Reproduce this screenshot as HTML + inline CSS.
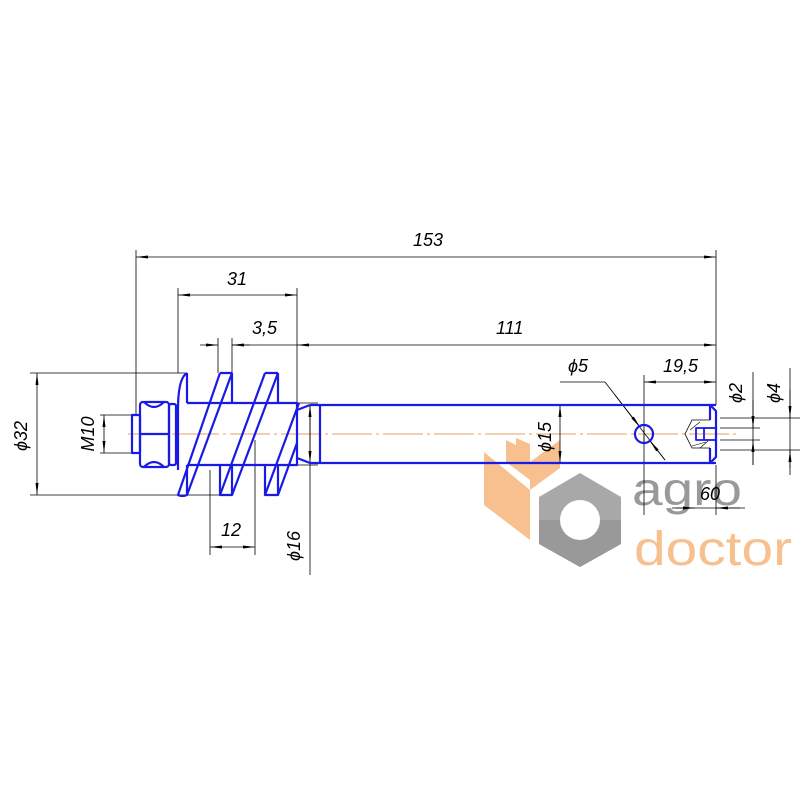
<!DOCTYPE html>
<html><head><style>html,body{margin:0;padding:0;background:#fff}svg{display:block}</style></head>
<body>
<svg width="800" height="800" viewBox="0 0 800 800" xmlns="http://www.w3.org/2000/svg" font-family="Liberation Sans, sans-serif">
<defs>
<marker id="a" viewBox="0 0 12 6" refX="12" refY="3" markerWidth="12" markerHeight="6" orient="auto-start-reverse" markerUnits="userSpaceOnUse"><path d="M0,1.5 L12,3 L0,4.5 Z" fill="#000"/></marker>
</defs>
<!-- logo -->
<g fill="#f7c08e">
<polygon points="484,452 530,490 530,540 484,505"/>
<polygon points="506,462 530,480 530,452 506,440"/>
<polygon points="530,490 560,468 560,440 530,462"/>
<polygon points="516,448 530,456 530,444 516,438"/>
</g>
<polygon points="580,473 621,497 621,544 580,567 539,544 539,497" fill="#a8a8a8"/>
<polygon points="539,520 621,520 621,544 580,567 539,544" fill="#999"/>
<circle cx="580" cy="520" r="20" fill="#fff"/>
<text x="632" y="505" font-size="46" fill="#999" textLength="110" lengthAdjust="spacingAndGlyphs">agro</text>
<text x="634" y="565" font-size="48" fill="#f7c08e" textLength="158" lengthAdjust="spacingAndGlyphs">doctor</text>

<line x1="128" y1="434" x2="740" y2="434" stroke="#e0a060" stroke-width="1" stroke-dasharray="40,4,3,4"/>

<g stroke="#000" stroke-width="0.8" fill="none">
<line x1="136" y1="250" x2="136" y2="415"/>
<line x1="178" y1="288" x2="178" y2="373"/>
<line x1="297" y1="288" x2="297" y2="403"/>
<line x1="716" y1="250" x2="716" y2="405"/>
<line x1="218" y1="338" x2="218" y2="373"/>
<line x1="232" y1="338" x2="232" y2="373"/>
<line x1="30" y1="373" x2="185" y2="373"/>
<line x1="30" y1="495" x2="220" y2="495"/>
<line x1="100" y1="415" x2="140" y2="415"/>
<line x1="100" y1="453" x2="140" y2="453"/>
<line x1="210" y1="470" x2="210" y2="555"/>
<line x1="255" y1="440" x2="255" y2="555"/>
<line x1="310" y1="405" x2="310" y2="575"/>
<line x1="296" y1="403" x2="318" y2="403"/>
<line x1="296" y1="465" x2="318" y2="465"/>
<line x1="644" y1="375" x2="644" y2="445"/>
<line x1="644" y1="430" x2="644" y2="515"/>
<line x1="716" y1="465" x2="716" y2="515"/>
<line x1="720" y1="428" x2="760" y2="428"/>
<line x1="720" y1="440" x2="760" y2="440"/>
<line x1="720" y1="418" x2="800" y2="418"/>
<line x1="720" y1="450" x2="800" y2="450"/>
<line x1="753" y1="372" x2="753" y2="465"/>
<line x1="790" y1="368" x2="790" y2="468"/>
<line x1="560" y1="382" x2="605" y2="382"/>
<line x1="605" y1="382" x2="665" y2="460"/>
<line x1="672" y1="508" x2="745" y2="508"/>
</g>
<g stroke="#000" stroke-width="0.8" marker-start="url(#a)" marker-end="url(#a)">
<line x1="136" y1="257" x2="716" y2="257"/>
<line x1="178" y1="295" x2="297" y2="295"/>
<line x1="297" y1="345" x2="716" y2="345"/>
<line x1="37" y1="373" x2="37" y2="495"/>
<line x1="104" y1="415" x2="104" y2="453"/>
<line x1="210" y1="547" x2="255" y2="547"/>
<line x1="310" y1="405" x2="310" y2="463"/>
<line x1="560" y1="405" x2="560" y2="463"/>
<line x1="644" y1="382" x2="716" y2="382"/>
</g>
<g stroke="#000" stroke-width="0.8" marker-end="url(#a)">
<line x1="200" y1="345" x2="218" y2="345"/>
<line x1="250" y1="345" x2="232" y2="345"/>
<line x1="753" y1="400" x2="753" y2="428"/>
<line x1="753" y1="465" x2="753" y2="440"/>
<line x1="790" y1="390" x2="790" y2="418"/>
<line x1="790" y1="475" x2="790" y2="450"/>
<line x1="615" y1="395" x2="640" y2="427"/>
<line x1="665" y1="460" x2="650" y2="441"/>
<line x1="676" y1="508" x2="695" y2="508"/>
<line x1="740" y1="508" x2="716" y2="508"/>
</g>
<line x1="232" y1="345" x2="297" y2="345" stroke="#000" stroke-width="0.8"/>

<g stroke="#1a1ae6" stroke-width="2.2" fill="none" stroke-linejoin="round">
<rect x="132" y="415" width="8" height="38"/>
<rect x="140" y="402" width="29" height="65" rx="3"/>
<line x1="140" y1="434" x2="169" y2="434"/>
<path d="M144,402 Q154,412 164,402 M144,467 Q154,457 164,467"/>
<rect x="169" y="404" width="7" height="61" rx="2"/>
<path d="M187,403 L297,403 L297,465 L187,465"/>
<path d="M187,373 Q178,378 178,410 L178,470 M187,373 L187,403 M187,465 L187,495"/>
<path d="M220,373 L232,373 M220,373 L178,495 Q182,497 187,495 L232,373"/>
<path d="M265,373 L278,373 M265,373 L220,495 L232,495 L278,373"/>
<path d="M299,403 L265,495 L278,495 L297,443"/>
<path d="M232,373 L232,403 M278,373 L278,403 M220,465 L220,495 M232,465 L232,495 M265,465 L265,495 M278,465 L278,495"/>
<path d="M310,405 L716,405 M320,405 L320,463 M310,463 L716,463 M297,410 L310,405 M297,458 L310,463"/>
<path d="M710,405 L716,411 L716,457 L710,463 M710,405 L710,420 M710,448 L710,463"/>
<circle cx="644" cy="434" r="9"/>
<rect x="696" y="428" width="8" height="12" stroke-width="1.8"/>
<line x1="704" y1="428" x2="716" y2="428" stroke-width="1.8"/>
<line x1="704" y1="440" x2="716" y2="440" stroke-width="1.8"/>
</g>
<path d="M710,420 L692,420 L685,434 L692,448 L710,448" stroke="#000" stroke-width="0.8" fill="none"/>
<g stroke="#000" stroke-width="0.6"><line x1="690" y1="430" x2="700" y2="422"/><line x1="692" y1="446" x2="706" y2="442"/><line x1="700" y1="448" x2="708" y2="441"/></g>

<g font-style="italic" font-size="18" fill="#000">
<text x="413" y="246">153</text>
<text x="227" y="285">31</text>
<text x="252" y="334">3,5</text>
<text x="496" y="334">111</text>
<text x="568" y="372">ϕ5</text>
<text x="663" y="372">19,5</text>
<text x="221" y="536">12</text>
<text x="700" y="500">60</text>
<text transform="translate(27,436) rotate(-90)" text-anchor="middle">ϕ32</text>
<text transform="translate(94,434) rotate(-90)" text-anchor="middle">M10</text>
<text transform="translate(300,546) rotate(-90)" text-anchor="middle">ϕ16</text>
<text transform="translate(551,437) rotate(-90)" text-anchor="middle">ϕ15</text>
<text transform="translate(742,393) rotate(-90)" text-anchor="middle">ϕ2</text>
<text transform="translate(780,393) rotate(-90)" text-anchor="middle">ϕ4</text>
</g>
</svg>
</body></html>
